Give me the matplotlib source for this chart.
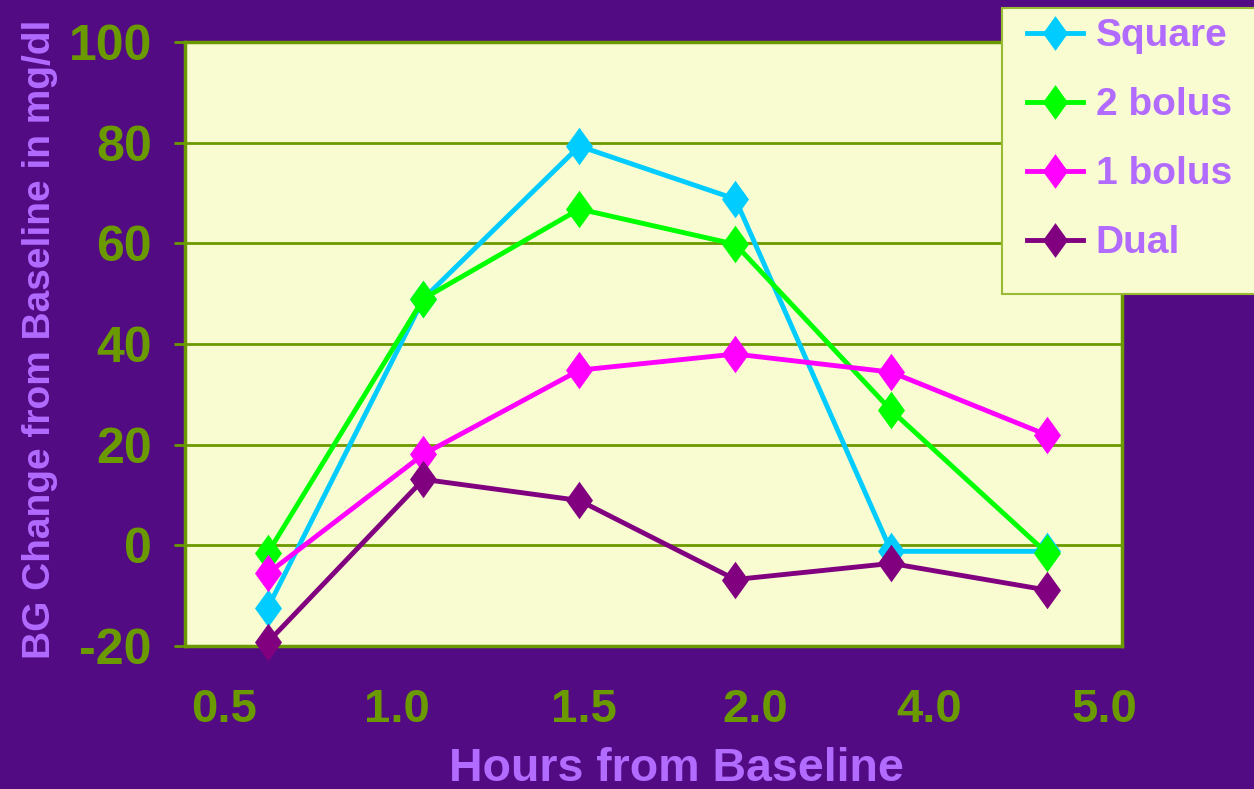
import matplotlib.pyplot as plt
from matplotlib.patches import Rectangle
import numpy as np

# values
hours = ['0.5', '1.0', '1.5', '2.0', '4.0', '5.0']
square = [-12.5, 49, 79.3, 68.8, -1.2, -1.2]
bolus2 = [-1.6, 49, 66.8, 59.8, 26.8, -1.6]
bolus1 = [-5.6, 18.1, 34.8, 38.0, 34.4, 21.9]
dual = [-19.3, 13.1, 8.9, -6.8, -3.6, -8.9]

bg = '#530b83'
face = '#f8fcd0'
olive = '#6b9a00'
lav = '#b26bff'

plt.rcParams['font.family'] = ['Liberation Sans', 'DejaVu Sans']
plt.rcParams['font.weight'] = 'bold'
plt.rcParams['axes.unicode_minus'] = False

# wider diamond than matplotlib's 'd'
diamond = [(0, 1), (0.72, 0), (0, -1), (-0.72, 0), (0, 1)]

fig = plt.figure(figsize=(12.54, 7.89), dpi=100, facecolor=bg)
ax = fig.add_axes([0.1475, 0.1813, 0.7472, 0.7655])
ax.set_facecolor(face)

x = np.arange(len(hours))
series = [('Square', square, '#00ccff'),
          ('2 bolus', bolus2, '#00ff00'),
          ('1 bolus', bolus1, '#ff00ff'),
          ('Dual', dual, '#800080')]
for name, vals, col in series:
    ax.plot(x, vals, color=col, lw=3.5, marker=diamond, ms=27, mew=0, label=name,
            clip_on=False, zorder=3)

ax.set_ylim(-20, 100)
ax.set_yticks(range(-20, 101, 20))
ax.set_xlim(-0.53, 5.48)
# category labels sit offset from the points, as in the original
ax.set_xticks([-0.28, 0.83, 2.03, 3.13, 4.24, 5.37])
ax.set_xticklabels(hours)
ax.yaxis.grid(True, color=olive, lw=2)
ax.set_axisbelow(True)
for s in ax.spines.values():
    s.set_color(olive)
    s.set_linewidth(2.5)
    s.set_zorder(2)
ax.tick_params(axis='y', colors=olive, labelsize=36, length=8, width=2, pad=16)
ax.tick_params(axis='x', colors=olive, labelsize=34, length=0, pad=30)
for lab in ax.get_xticklabels() + ax.get_yticklabels():
    lab.set_fontweight('bold')

ax.set_xlabel('Hours from Baseline', color=lav, fontsize=33.5, fontweight='bold')
ax.xaxis.set_label_coords(0.525, -0.167)
ax.set_ylabel('BG Change from Baseline in mg/dl', color=lav, fontsize=28, fontweight='bold')
ax.yaxis.set_label_coords(-0.1355, 0.507)

# legend box overlapping the top right corner
fig.patches.append(Rectangle((1002 / 1254, 1 - 294 / 789), 0.25, 286 / 789,
                             transform=fig.transFigure, facecolor=face,
                             edgecolor='#99bb33', lw=1.5, zorder=5))
leg = fig.legend(loc='upper left', bbox_to_anchor=(1027 / 1254, 0.977), frameon=False,
                 fontsize=28, handlelength=1.43, labelspacing=0.85, borderpad=0,
                 handletextpad=0.34, borderaxespad=0)
leg.set_zorder(6)
for t in leg.get_texts():
    t.set_color(lav)
    t.set_fontweight('bold')
for h in leg.legend_handles:
    h.set_markersize(25)

fig.savefig('out.png', dpi=100, facecolor=bg)
